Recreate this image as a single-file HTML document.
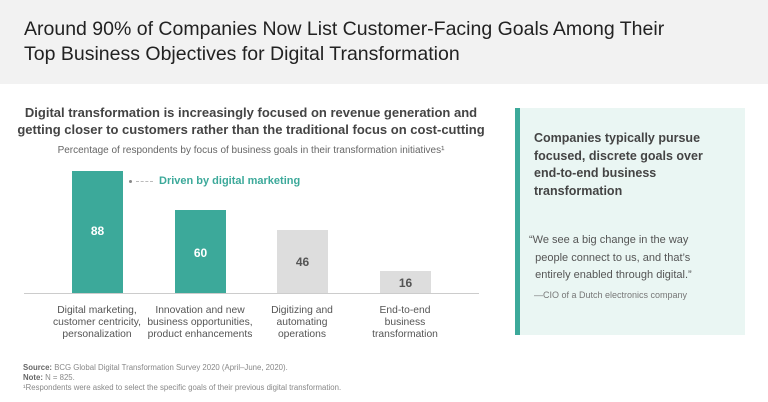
<!DOCTYPE html>
<html><head><style>
body{margin:0;width:768px;height:402px;background:#fff;font-family:"Liberation Sans",sans-serif;position:relative;overflow:hidden}
.hdr{position:absolute;left:0;top:0;width:768px;height:84px;background:#f2f2f2}
.hdr div{position:absolute;left:24px;top:17px;font-size:19.5px;line-height:25px;color:#222}
.a{position:absolute}
.sub{left:0;width:502px;text-align:center;font-weight:bold;font-size:13px;line-height:17px;color:#444;top:104px}
.sub2{left:0;width:502px;text-align:center;font-size:10px;color:#666;top:145px}
.bar{position:absolute;width:51px}
.t{background:#3ca99a}.g{background:#dddddd}
.v{position:absolute;width:51px;text-align:center;font-weight:bold;font-size:12px}
.lab{position:absolute;width:110px;text-align:center;font-size:10.3px;line-height:12px;color:#555;top:305px}
</style></head><body>
<div class="hdr"><div>Around 90% of Companies Now List Customer-Facing Goals Among Their<br>Top Business Objectives for Digital Transformation</div></div>
<div class="a sub">Digital transformation is increasingly focused on revenue generation and<br>getting closer to customers rather than the traditional focus on cost-cutting</div>
<div class="a sub2">Percentage of respondents by focus of business goals in their transformation initiatives¹</div>
<div class="bar t" style="left:72px;top:171px;height:122px"></div>
<div class="bar t" style="left:175px;top:210px;height:83px"></div>
<div class="bar g" style="left:277px;top:230px;height:63px"></div>
<div class="bar g" style="left:380px;top:271px;height:22px"></div>
<div class="v" style="left:72px;top:224px;color:#fff">88</div>
<div class="v" style="left:175px;top:246px;color:#fff">60</div>
<div class="v" style="left:277px;top:255px;color:#555">46</div>
<div class="v" style="left:380px;top:276px;color:#555">16</div>
<div class="a" style="left:24px;top:293px;width:455px;height:1px;background:#ccc"></div>
<div class="a" style="left:129px;top:180px;width:3px;height:3px;border-radius:2px;background:#888"></div>
<div class="a" style="left:136px;top:181px;width:17px;border-top:1px dashed #bbb"></div>
<div class="a" style="left:159px;top:175px;font-size:11px;font-weight:bold;color:#3ca99a">Driven by digital marketing</div>
<div class="lab" style="left:42px">Digital marketing,<br>customer centricity,<br>personalization</div>
<div class="lab" style="left:145px">Innovation and new<br>business opportunities,<br>product enhancements</div>
<div class="lab" style="left:247px">Digitizing and<br>automating<br>operations</div>
<div class="lab" style="left:350px">End-to-end<br>business<br>transformation</div>
<div class="a" style="left:515px;top:108px;width:230px;height:227px;background:#eaf6f3"></div>
<div class="a" style="left:515px;top:108px;width:5px;height:227px;background:#3ca99a"></div>
<div class="a" style="left:534px;top:130px;font-size:12.5px;font-weight:bold;line-height:17.5px;color:#444">Companies typically pursue<br>focused, discrete goals over<br>end-to-end business<br>transformation</div>
<div class="a" style="left:529px;top:232px;font-size:11px;line-height:17.5px;color:#555">“We see a big change in the way<br>&nbsp;&nbsp;people connect to us, and that’s<br>&nbsp;&nbsp;entirely enabled through digital.”</div>
<div class="a" style="left:534px;top:290px;font-size:9px;color:#777">—CIO of a Dutch electronics company</div>
<div class="a" style="left:23px;top:363px;font-size:7.8px;line-height:10px;color:#888"><b style="color:#666">Source:</b> BCG Global Digital Transformation Survey 2020 (April–June, 2020).<br><b style="color:#666">Note:</b> N = 825.<br>¹Respondents were asked to select the specific goals of their previous digital transformation.</div>
</body></html>
